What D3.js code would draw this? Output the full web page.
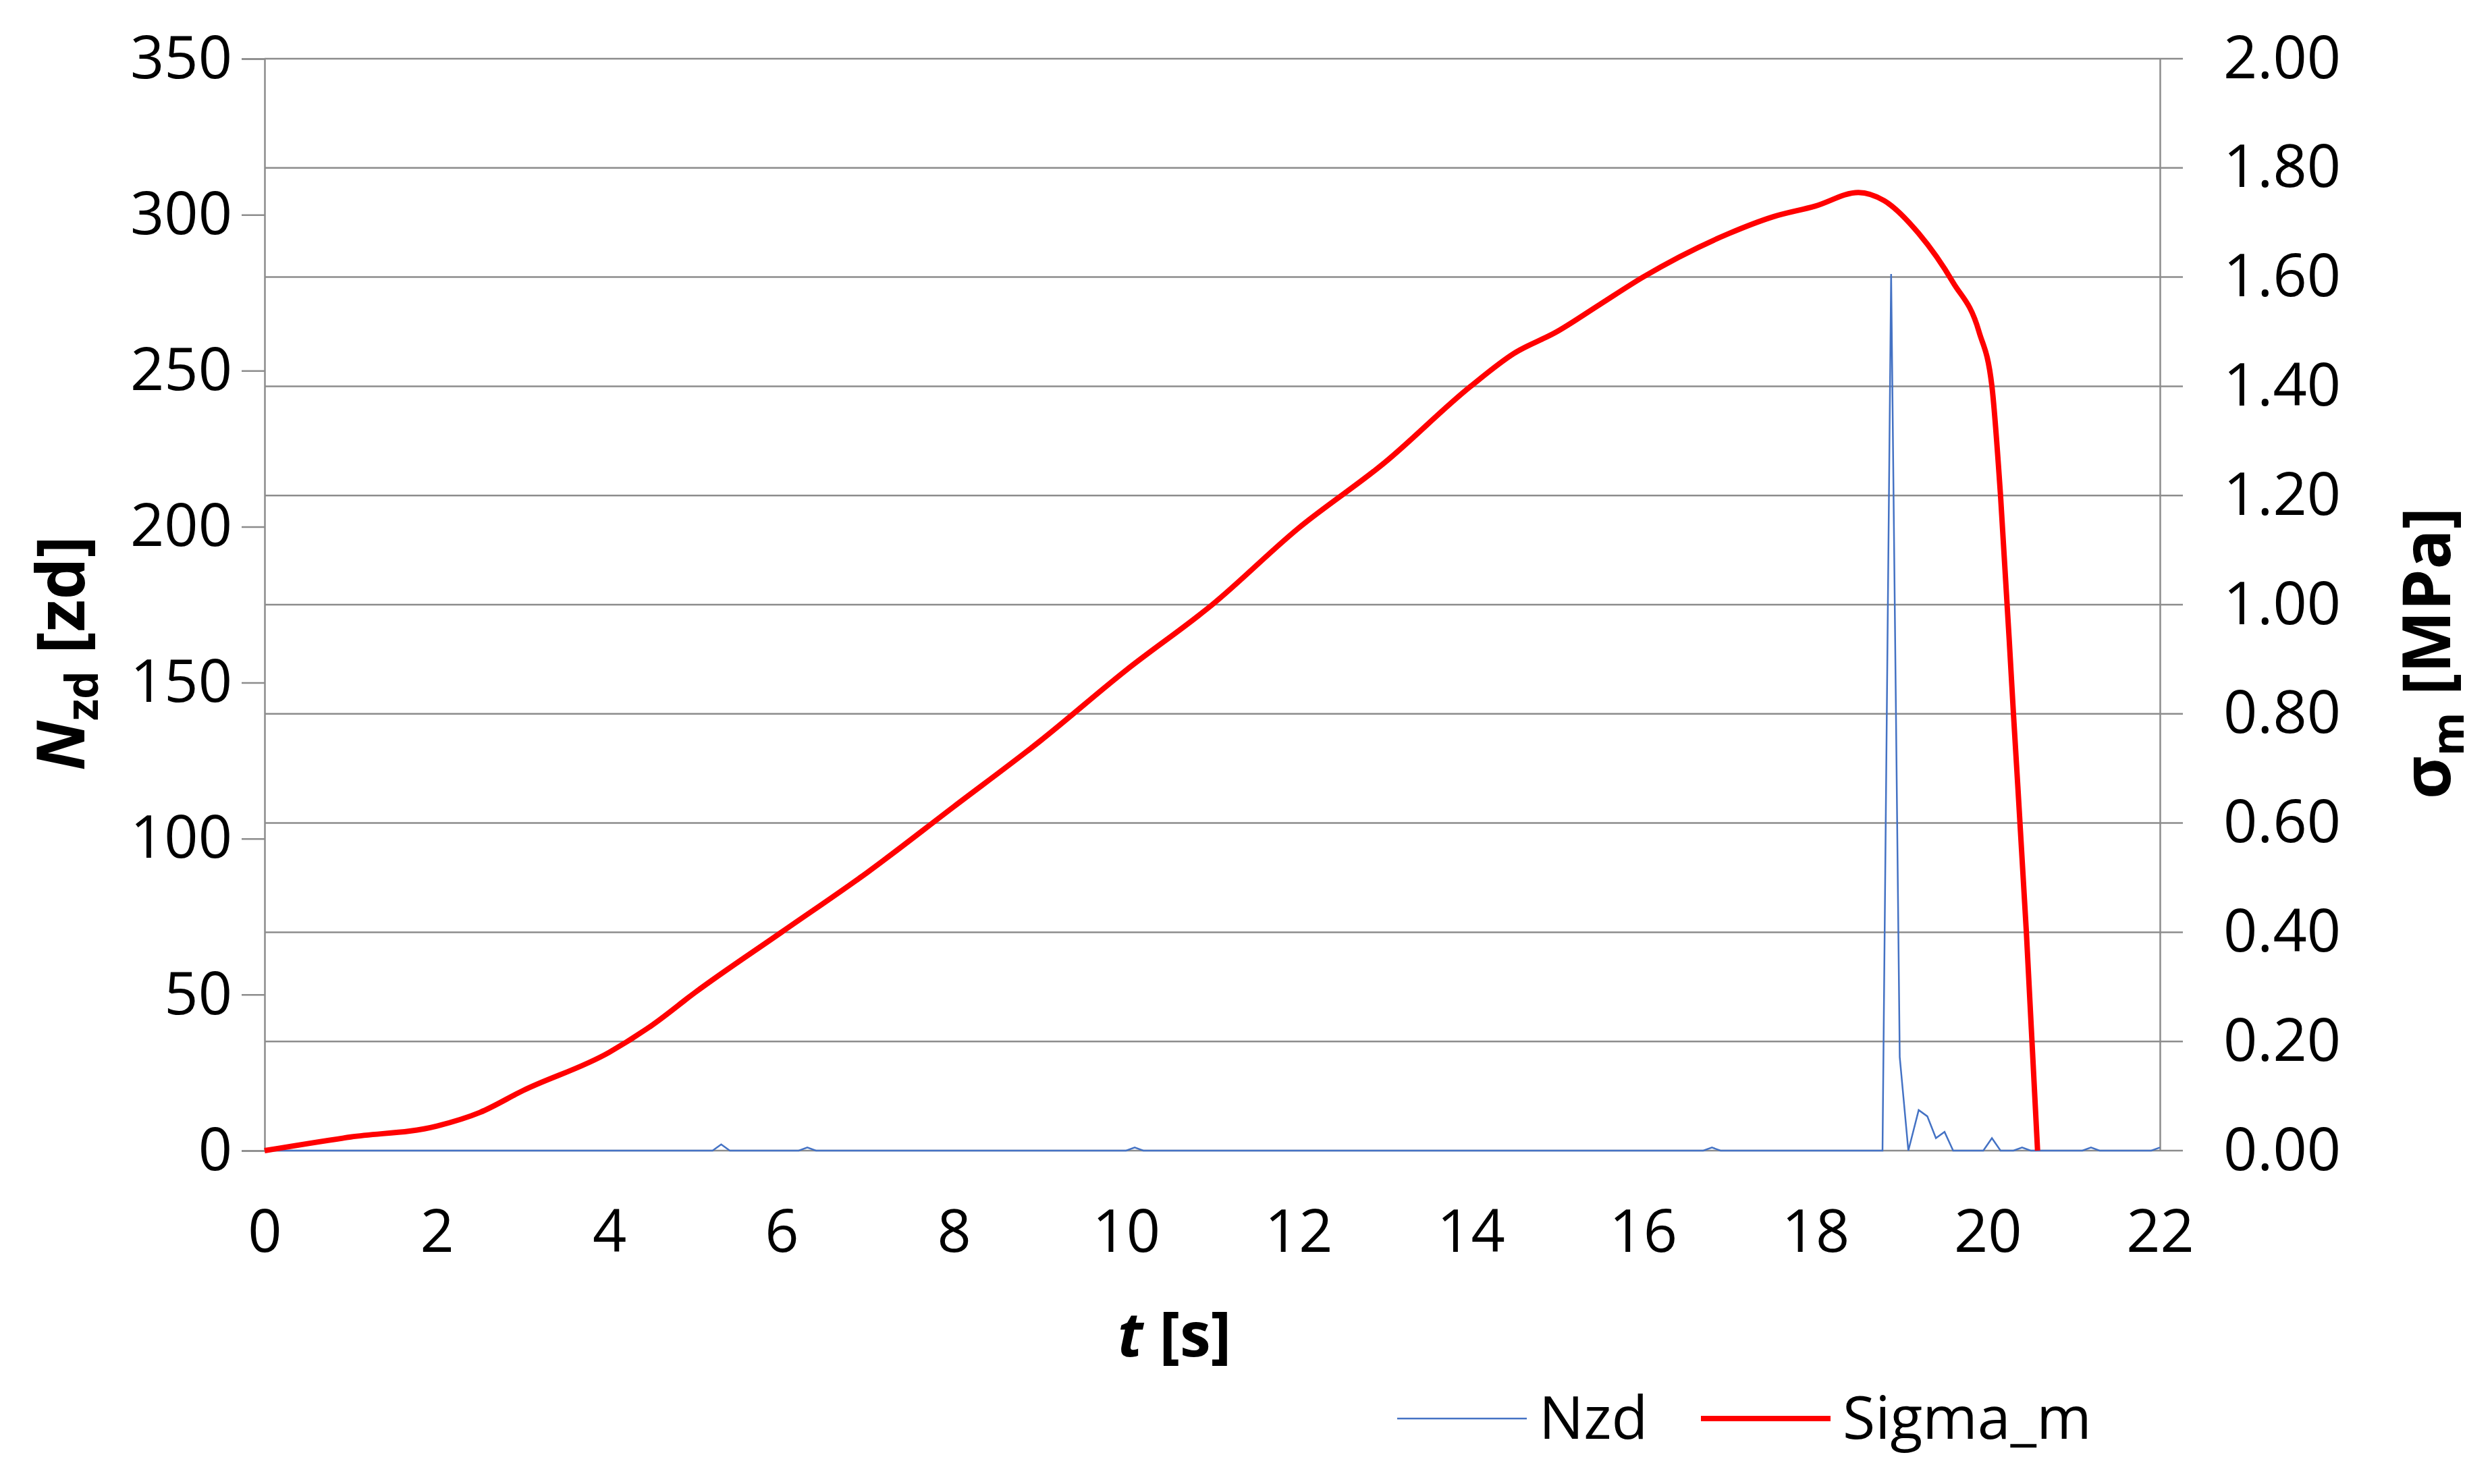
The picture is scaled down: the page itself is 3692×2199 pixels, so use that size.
<!DOCTYPE html>
<html><head><meta charset="utf-8">
<script src="https://cdn.jsdelivr.net/npm/d3@7"></script>
<style>body{margin:0;background:#fff}text{font-family:"Open Sans",sans-serif}</style>
</head><body>
<svg id="chart" width="3692" height="2199"></svg>
<script>
// Sigma_m [MPa] vs t [s]
var sigmaT = [0,1,2,2.5,3,4,4.5,5,6,7,8,9,10,11,12,13,14,14.5,15,15.5,16,17,17.5,18,18.5,18.8,19.2,19.6,19.9,20.05,20.15,20.3,20.45,20.58];
var sigmaV = [0,0.025,0.045,0.07,0.11,0.18,0.23,0.29,0.40,0.51,0.63,0.75,0.88,1.0,1.14,1.26,1.40,1.46,1.50,1.55,1.60,1.68,1.71,1.73,1.755,1.74,1.68,1.59,1.50,1.40,1.2,0.8,0.4,0];
// Nzd [zd] vs t [s]
var nzdT = [0,5.2,5.3,5.4,6.2,6.3,6.4,10,10.1,10.2,16.7,16.8,16.9,18.78,18.88,18.98,19.08,19.2,19.3,19.4,19.5,19.6,19.95,20.05,20.15,20.3,20.4,20.5,21.1,21.2,21.3,21.9,22];
var nzdV = [0,0,2,0,0,1,0,0,1,0,0,1,0,0,281,30,0,13,11,4,6,0,0,4,0,0,1,0,0,1,0,0,1];
var xTicks = d3.range(0, 23, 2);
var leftTicks = d3.range(0, 351, 50);
var rightTicks = d3.range(0, 2.01, 0.2);

var L = 392, R = 3200, T = 87, B = 1705;
var svg = d3.select('#chart');
var x = d3.scaleLinear().domain([0, 22]).range([L, R]);
var yL = d3.scaleLinear().domain([0, 350]).range([B, T]);
var yR = d3.scaleLinear().domain([0, 2]).range([B, T]);
var grid = '#8c8c8c';
var fs = 88;

// gridlines from right axis
svg.append('g').selectAll('line').data(rightTicks).enter().append('line')
   .attr('x1', L).attr('x2', R + 34)
   .attr('y1', function(d){ return yR(d); }).attr('y2', function(d){ return yR(d); })
   .attr('stroke', grid).attr('stroke-width', 2.5);

// left axis
var gl = svg.append('g').attr('transform', 'translate(' + L + ',0)')
   .call(d3.axisLeft(yL).tickValues(leftTicks).tickSize(34).tickPadding(14));
gl.select('.domain').attr('stroke', grid).attr('stroke-width', 2.5);
gl.selectAll('.tick line').attr('stroke', grid).attr('stroke-width', 2.5);
gl.selectAll('text').attr('font-size', fs).attr('fill', '#000');

// right axis
var gr = svg.append('g').attr('transform', 'translate(' + R + ',0)')
   .call(d3.axisRight(yR).tickValues(rightTicks).tickSize(0).tickPadding(94).tickFormat(d3.format('.2f')));
gr.select('.domain').attr('stroke', grid).attr('stroke-width', 2.5);
gr.selectAll('text').attr('font-size', fs).attr('fill', '#000');

// x axis labels
var gx = svg.append('g').attr('transform', 'translate(0,' + B + ')')
   .call(d3.axisBottom(x).tickValues(xTicks).tickSize(0).tickPadding(88));
gx.select('.domain').remove();
gx.selectAll('text').attr('font-size', fs).attr('fill', '#000');

// series
svg.append('path').datum(d3.zip(nzdT, nzdV))
   .attr('d', d3.line().x(function(d){ return x(d[0]); }).y(function(d){ return yL(d[1]); }))
   .attr('fill', 'none').attr('stroke', '#4472c4').attr('stroke-width', 2.5);
svg.append('path').datum(d3.zip(sigmaT, sigmaV))
   .attr('d', d3.line().curve(d3.curveMonotoneX).x(function(d){ return x(d[0]); }).y(function(d){ return yR(d[1]); }))
   .attr('fill', 'none').attr('stroke', '#ff0000').attr('stroke-width', 8);

// titles
var xt = svg.append('text').attr('x', 1740).attr('y', 2010).attr('text-anchor', 'middle')
   .attr('font-size', 92).attr('font-weight', 'bold');
xt.append('tspan').attr('font-style', 'italic').text('t');
xt.append('tspan').text(' [s]');

var lt = svg.append('text').attr('transform', 'translate(125,968) rotate(-90)')
   .attr('text-anchor', 'middle').attr('font-size', 98).attr('font-weight', 'bold');
lt.append('tspan').attr('font-style', 'italic').text('N');
lt.append('tspan').attr('font-size', 66).attr('dy', 20).text('zd');
lt.append('tspan').attr('dy', -20).text(' [zd]');

var rt = svg.append('text').attr('transform', 'translate(3630,968) rotate(-90)')
   .attr('text-anchor', 'middle').attr('font-size', 98).attr('font-weight', 'bold');
rt.append('tspan').text('σ');
rt.append('tspan').attr('font-size', 66).attr('dy', 20).text('m');
rt.append('tspan').attr('dy', -20).text(' [MPa]');

// legend
var lg = svg.append('g');
lg.append('line').attr('x1', 2070).attr('x2', 2262).attr('y1', 2102).attr('y2', 2102)
   .attr('stroke', '#4472c4').attr('stroke-width', 2.5);
lg.append('text').attr('x', 2280).attr('y', 2132).attr('font-size', fs).text('Nzd');
lg.append('line').attr('x1', 2520).attr('x2', 2712).attr('y1', 2102).attr('y2', 2102)
   .attr('stroke', '#ff0000').attr('stroke-width', 8);
lg.append('text').attr('x', 2730).attr('y', 2132).attr('font-size', fs).text('Sigma_m');
</script>
</body></html>
